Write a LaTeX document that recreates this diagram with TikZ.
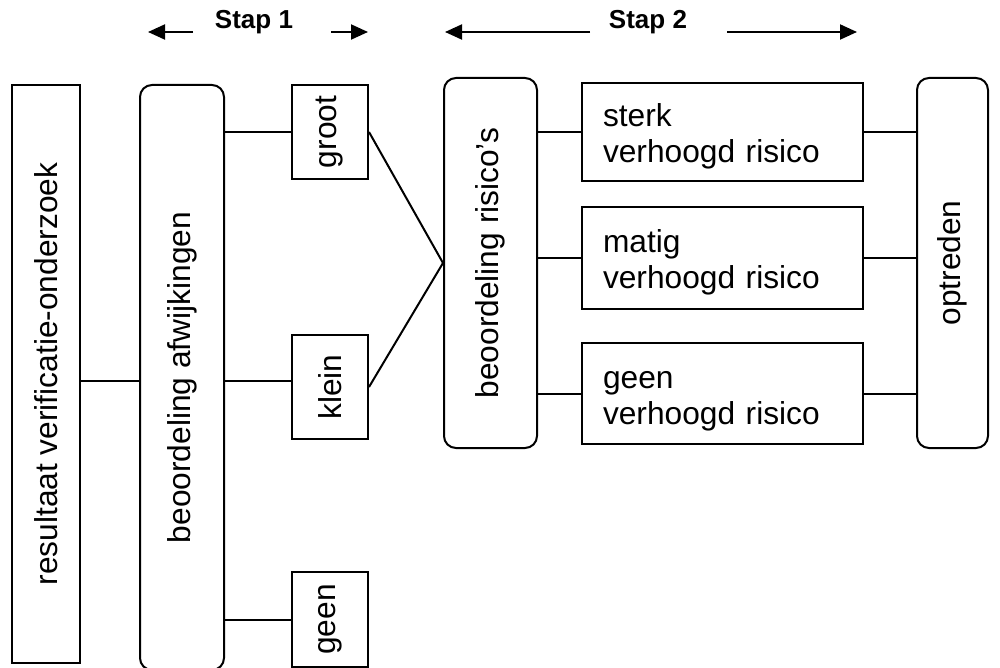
\documentclass[tikz,border=0pt]{standalone}
\usepackage{fontspec}
\setmainfont{Liberation Sans}
\usepackage{graphicx}
\usetikzlibrary{arrows.meta}
\newcommand\mainsz{\fontsize{15.85}{18}\selectfont}
\newcommand\stapsz{\fontsize{13}{15}\selectfont\bfseries}
\begin{document}
\begin{tikzpicture}[x=0.5pt,y=-0.5pt,line width=1pt,
  box/.style={draw,line width=1pt,inner sep=0pt,font=\mainsz},
  rbox/.style={box,rounded corners=6pt},
  wbox/.style={box,text width=119.5pt,inner xsep=10.5pt,align=left,
    text height=16pt},
  conn/.style={line width=1pt},
  steparrow/.style={line width=1pt,-{Triangle[length=8.5pt,width=7.5pt]}},
  staplabel/.style={font=\stapsz,inner sep=0pt}]
\useasboundingbox (0,0) rectangle (1000,668);

% header
\node[staplabel] (s1) at (254,22) {Stap 1};
\node[staplabel] (s2) at (648,22) {Stap 2};
\coordinate (a1s) at (193,32); \coordinate (a1e) at (148,32);
\coordinate (a2s) at (331,32); \coordinate (a2e) at (368,32);
\coordinate (a3s) at (590,32); \coordinate (a3e) at (445,32);
\coordinate (a4s) at (727,32); \coordinate (a4e) at (857,32);
\draw[steparrow] (a1s) -- (a1e);
\draw[steparrow] (a2s) -- (a2e);
\draw[steparrow] (a3s) -- (a3e);
\draw[steparrow] (a4s) -- (a4e);

% boxes
\node[box,minimum width=34pt,minimum height=289pt] (res) at (46,374)
  {\rotatebox{90}{resultaat verificatie-onderzoek}};
\node[rbox,minimum width=42pt,minimum height=292.5pt] (afw) at (182,377.5)
  {\rotatebox{90}{beoordeling afwijkingen}};
\node[box,minimum width=38pt,minimum height=47pt] (groot) at (330,132)
  {\rotatebox{90}{groot}};
\node[box,minimum width=38pt,minimum height=52pt] (klein) at (330,387)
  {\rotatebox{90}{klein}};
\node[box,minimum width=38pt,minimum height=47.5pt] (geenA) at (330,619.5)
  {\rotatebox{90}{geen}};
\node[rbox,minimum width=46.5pt,minimum height=185pt] (ris) at (490.5,263)
  {\rotatebox{90}{beoordeling risico’s}};
\node[wbox,minimum height=49pt] (sterk) at (722.5,132) {sterk\\verhoogd risico};
\node[wbox,minimum height=51pt] (matig) at (722.5,258) {matig\\verhoogd risico};
\node[wbox,minimum height=50.5pt] (geenB) at (722.5,393.5) {geen\\verhoogd risico};
\node[rbox,minimum width=35.5pt,minimum height=185pt] (opt) at (952.5,263)
  {\rotatebox{90}{optreden}};

% connectors
\coordinate (mid) at (0,381);
\draw[conn] (res.east |- mid) -- (afw.west |- mid);
\draw[conn] (afw.east |- groot.west) -- (groot.west);
\draw[conn] (afw.east |- mid) -- (klein.west |- mid);
\draw[conn] (afw.east |- geenA.west) -- (geenA.west);
\draw[conn] (groot.east) -- (ris.west);
\draw[conn] (klein.east) -- (ris.west);
\draw[conn] (ris.east |- sterk.west) -- (sterk.west);
\draw[conn] (ris.east |- matig.west) -- (matig.west);
\draw[conn] (ris.east |- geenB.west) -- (geenB.west);
\draw[conn] (sterk.east) -- (opt.west |- sterk.east);
\draw[conn] (matig.east) -- (opt.west |- matig.east);
\draw[conn] (geenB.east) -- (opt.west |- geenB.east);
\end{tikzpicture}
\end{document}
